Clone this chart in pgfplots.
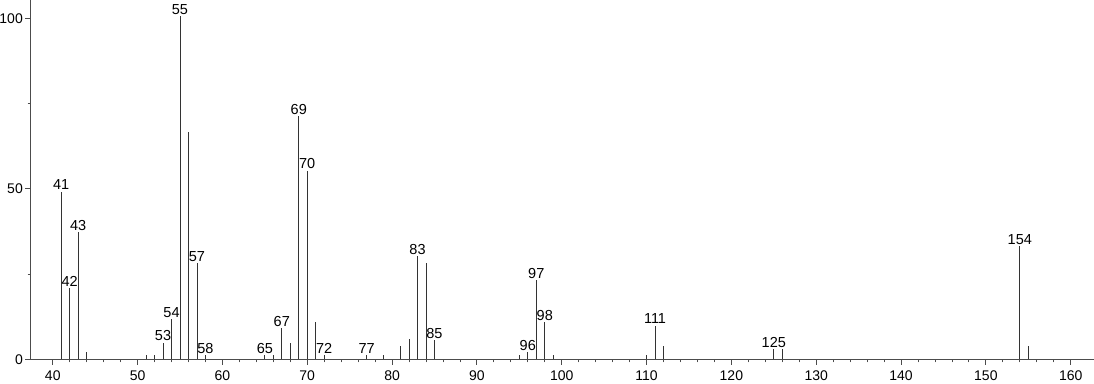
\documentclass[border=0pt]{standalone}
\usepackage{fontspec}
\setmainfont{Liberation Sans}
\usepackage{pgfplots}
\pgfplotsset{compat=1.18}
\begin{document}
\begin{tikzpicture}
\begin{axis}[
  name=ax,
  scale only axis, width=1063.3pt, height=359.3pt,
  xmin=37.4, xmax=162.75, ymin=0, ymax=105.4,
  axis lines*=left,
  xtick={40,50,...,160}, minor x tick num=4,
  ytick={0,50,100}, minor y tick num=1,
  tick align=outside, major tick length=5.5pt, minor tick length=3pt,
  tick style={black!70, line width=0.8pt},
  axis line style={black!70, line width=0.8pt},
  tick label style={font=\fontsize{14}{16}\selectfont},
  xticklabel style={inner sep=0pt, yshift=-6.2pt},
  yticklabel style={inner sep=2.2pt},
  /pgf/number format/assume math mode=true,
  clip=false,
]
\addplot[ycomb, black!80, line width=0.9pt] coordinates {
(41,49.2) (42,20.8) (43,37.2) (44,2.1) (51,1.3) (52,1.3) (53,4.9) (54,11.8)
(55,100.7) (56,66.7) (57,28.2) (58,1.3) (65,1.2) (66,1.2) (67,9.1) (68,4.9)
(69,71.4) (70,55.3) (71,10.9) (72,1.2) (77,1.2) (79,1.2) (81,3.9) (82,5.9)
(83,30.3) (84,28.2) (85,5.7) (95,1.3) (96,2.1) (97,23.3) (98,10.9) (99,1.2)
(110,1.3) (111,9.9) (112,4.0) (125,2.9) (126,2.9) (154,33.2) (155,4.0)
};
\addplot[draw=none, nodes near coords, point meta=explicit symbolic,
  nodes near coords style={anchor=south, font=\fontsize{14.5}{16}\selectfont, inner sep=1.5pt, text=black}] coordinates {
(41,49.2)[41] (42,20.8)[42] (43,37.2)[43] (53,4.9)[53] (54,11.8)[54]
(55,100.7)[55] (57,28.2)[57] (58,1.3)[58] (65,1.2)[65] (67,9.1)[67]
(69,71.4)[69] (70,55.3)[70] (72,1.2)[72] (77,1.2)[77] (83,30.3)[83]
(85,5.7)[85] (96,2.1)[96] (97,23.3)[97] (98,10.9)[98] (111,9.9)[111]
(125,2.9)[125] (154,33.2)[154]
};
\end{axis}
\pgfresetboundingbox
\path[use as bounding box] (ax.south west) ++(-30.7pt,-24.7pt) rectangle (ax.north east);
\end{tikzpicture}
\end{document}
